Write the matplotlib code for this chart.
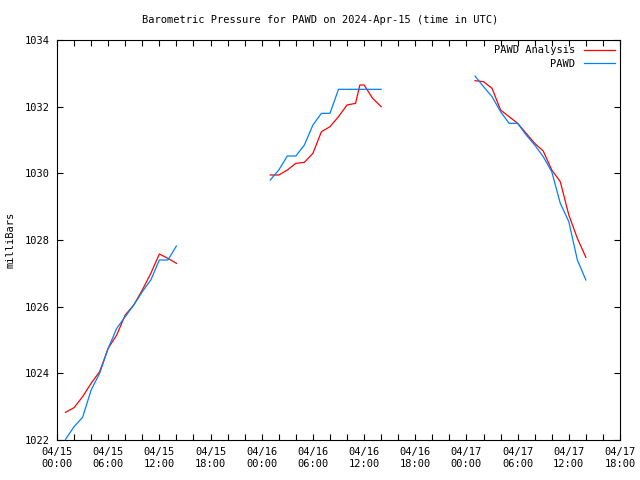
import matplotlib
matplotlib.use("Agg")
import matplotlib.pyplot as plt
import numpy as np

# hours since 2024-04-15 00:00 UTC
t1 = [1, 2, 3, 4, 5, 6, 7, 8, 9, 10, 11, 12, 13, 14]
t2 = [25, 26, 27, 28, 29, 30, 31, 32, 33, 34, 35, 35.5, 36, 37, 38]
t3 = [49, 50, 51, 52, 53, 54, 55, 56, 57, 58, 59, 60, 61, 62]

ana1 = [1022.83, 1022.97, 1023.3, 1023.7, 1024.05, 1024.75, 1025.15, 1025.75,
        1026.05, 1026.5, 1027.0, 1027.58, 1027.45, 1027.3]
ana2 = [1029.95, 1029.95, 1030.1, 1030.3, 1030.33, 1030.6, 1031.25, 1031.4,
        1031.7, 1032.05, 1032.1, 1032.65, 1032.65, 1032.25, 1032.0]
ana3 = [1032.78, 1032.75, 1032.55, 1031.9, 1031.7, 1031.5, 1031.2, 1030.9,
        1030.67, 1030.1, 1029.75, 1028.75, 1028.05, 1027.48]

obs1 = [1022.02, 1022.4, 1022.68, 1023.5, 1024.0, 1024.75, 1025.35, 1025.7,
        1026.05, 1026.45, 1026.8, 1027.4, 1027.4, 1027.82]
obs2 = [1029.8, 1030.1, 1030.52, 1030.52, 1030.85, 1031.45, 1031.8, 1031.8,
        1032.52, 1032.52, 1032.52, 1032.52, 1032.52, 1032.52, 1032.52]
obs3 = [1032.92, 1032.6, 1032.3, 1031.85, 1031.5, 1031.5, 1031.15, 1030.85,
        1030.5, 1030.05, 1029.1, 1028.55, 1027.4, 1026.8]

xticks = np.arange(0, 67, 6)
xlabels = ["04/15\n00:00", "04/15\n06:00", "04/15\n12:00", "04/15\n18:00",
           "04/16\n00:00", "04/16\n06:00", "04/16\n12:00", "04/16\n18:00",
           "04/17\n00:00", "04/17\n06:00", "04/17\n12:00", "04/17\n18:00"]

plt.rcParams['font.family'] = 'DejaVu Sans Mono'
plt.rcParams['font.size'] = 7.5

fig = plt.figure(figsize=(6.4, 4.8), dpi=100)
ax = fig.add_axes([57/640, 40/480, 563/640, 400/480])

red = '#ff0000'
blue = '#0080ff'
for i, (t, a) in enumerate([(t1, ana1), (t2, ana2), (t3, ana3)]):
    ax.plot(t, a, color=red, lw=0.9, label='PAWD Analysis' if i == 0 else None)
for i, (t, o) in enumerate([(t1, obs1), (t2, obs2), (t3, obs3)]):
    ax.plot(t, o, color=blue, lw=0.9, label='PAWD' if i == 0 else None)

ax.set_xlim(0, 66)
ax.set_ylim(1022, 1034)
ax.set_xticks(xticks)
ax.set_xticklabels(xlabels)
ax.set_xticks(np.arange(0, 67, 2), minor=True)
ax.set_yticks(np.arange(1022, 1035, 2))
ax.tick_params(which='both', direction='in', top=True, right=True,
               length=4, width=0.8, pad=5)
ax.set_ylabel('milliBars', va='center')
ax.yaxis.set_label_coords(-46/563, 0.5)
fig.text(0.5, 1 - 20/480, 'Barometric Pressure for PAWD on 2024-Apr-15 (time in UTC)',
         ha='center', va='center')
ax.legend(loc='upper right', frameon=False, markerfirst=False,
          handlelength=3.0, handletextpad=0.8, labelspacing=0.35,
          borderaxespad=0.2, borderpad=0.3, fontsize=7.5)

fig.savefig('out.png', dpi=100)
